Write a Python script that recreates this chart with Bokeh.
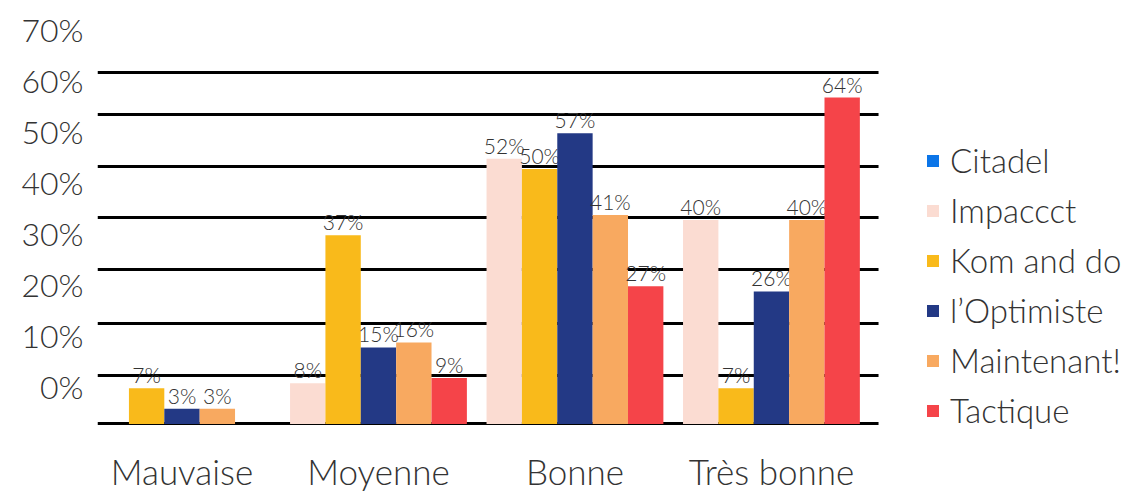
from bokeh.plotting import figure
from bokeh.models import (ColumnDataSource, Range1d, FixedTicker, LinearAxis, Legend,
                          LegendItem, Grid, BoxAnnotation)
from bokeh.core.properties import value
from bokeh.embed import file_html
from bokeh.resources import INLINE

# ---------------- data ----------------
categories = ["Mauvaise", "Moyenne", "Bonne", "Très bonne"]
series = ["Citadel", "Impaccct", "Kom and do", "l’Optimiste", "Maintenant!", "Tactique"]
citadel = [0, 0, 0, 0]
impaccct = [0, 8, 52, 40]
kom_and_do = [7, 37, 50, 7]
optimiste = [3, 15, 57, 26]
maintenant = [3, 16, 41, 40]
tactique = [0, 9, 27, 64]
y_tick_labels = ["0%", "10%", "20%", "30%", "40%", "50%", "60%", "70%"]

values = [citadel, impaccct, kom_and_do, optimiste, maintenant, tactique]
colors = ["#0b75e8", "#fbdcd2", "#f9ba1b", "#233985", "#f8a960", "#f54449"]

FONT = "Lato Light"
TXT = "#333333"

# layout (style) constants
X0, X1 = -0.430, 4.919          # frame spans the full canvas width to the right
X_GRID_END = 3.545              # grid lines stop here (legend area on the right)
Y0, Y1 = -13.63, 83.04
CAT_Y = -13.43                  # bottom of the category labels

p = figure(width=1148, height=493, output_backend="svg", toolbar_location=None,
           x_range=Range1d(X0, X1), y_range=Range1d(Y0, Y1),
           x_axis_location=None, y_axis_location=None,
           min_border_left=97, min_border_right=0,
           min_border_top=0, min_border_bottom=0)
p.outline_line_color = None
p.background_fill_color = "white"
p.border_fill_color = "white"
p.xgrid.visible = False
p.ygrid.visible = False

grid = Grid(dimension=1,
            ticker=FixedTicker(ticks=[0, 9.5, 19.7, 30.3, 40.5, 50.5, 60.7, 68.9]),
            grid_line_color="#000000", grid_line_width=3)
p.add_layout(grid)
# mask grid lines right of the plotting area (legend zone)
p.add_layout(BoxAnnotation(left=X_GRID_END, fill_color="white", fill_alpha=1.0,
                           line_color=None))

# tick-label axis (labels sit offset from the grid lines in the original)
SHIFT = 7.4
p.extra_y_ranges = {"lab": Range1d(Y0 - SHIFT, Y1 - SHIFT)}
lab_axis = LinearAxis(y_range_name="lab",
                      ticker=FixedTicker(ticks=[10 * i for i in range(len(y_tick_labels))]),
                      major_label_overrides={10 * i: t for i, t in enumerate(y_tick_labels)})
lab_axis.axis_line_color = None
lab_axis.major_tick_line_color = None
lab_axis.minor_tick_line_color = None
lab_axis.major_tick_out = 0
lab_axis.major_tick_in = 0
lab_axis.major_label_standoff = 14
lab_axis.major_label_text_font = FONT
lab_axis.major_label_text_font_size = "32px"
lab_axis.major_label_text_color = TXT
p.add_layout(lab_axis, "left")

# category labels along the bottom
cat_src = ColumnDataSource(dict(x=list(range(len(categories))),
                                y=[CAT_Y] * len(categories), text=categories))
p.text(x="x", y="y", text="text", source=cat_src, text_align="center",
       text_baseline="bottom", text_font=value(FONT), text_font_size="35px",
       text_color=TXT)

BW = 0.18
items = []
slot = 0
for name, vals, col in zip(series, values, colors):
    if any(v for v in vals):
        off = (slot - 2) * BW
        slot += 1
    else:
        off = 0.0
    src = ColumnDataSource(dict(x=[i + off for i in range(len(vals))], top=vals))
    r = p.vbar(x="x", top="top", bottom=0, width=BW, source=src,
               fill_color=col, line_color=None)
    nz = [(i + off, v) for i, v in enumerate(vals) if v]
    lab_src = ColumnDataSource(dict(x=[a for a, _ in nz], top=[b for _, b in nz],
                                    label=[f"{b}%" for _, b in nz]))
    p.text(x="x", y="top", text="label", source=lab_src, text_align="center",
           text_baseline="bottom", text_font=value(FONT), text_font_size="21px",
           text_color=TXT, y_offset=-1)
    items.append(LegendItem(label=name, renderers=[r]))

legend = Legend(items=items, location=(828, 63), orientation="vertical")
legend.label_text_font = FONT
legend.label_text_font_size = "33px"
legend.label_text_color = TXT
legend.glyph_width = 15
legend.glyph_height = 15
legend.label_standoff = 10
legend.spacing = 10
legend.padding = 0
legend.margin = 0
legend.border_line_color = None
legend.background_fill_alpha = 0
p.add_layout(legend)

open("out.html", "w").write(file_html(p, INLINE))
